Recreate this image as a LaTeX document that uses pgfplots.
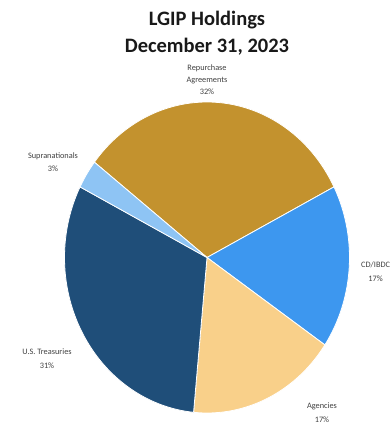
\documentclass[border=0pt]{standalone}
\usepackage{pgfplots}
\pgfplotsset{compat=1.18}
\usepackage{pgfplotstable}
\usepackage{fontspec}
\setmainfont{Carlito}
\definecolor{slice0}{HTML}{C3922E}
\definecolor{slice1}{HTML}{3D97EF}
\definecolor{slice2}{HTML}{F9D08A}
\definecolor{slice3}{HTML}{1F4E79}
\definecolor{slice4}{HTML}{8EC4F4}
\definecolor{lbl}{HTML}{404040}
\pgfplotstableread{
label pct
Repurchase 32
CD 17
Agencies 17
Treasuries 31
Supra 3
}\piedata
\begin{document}
\begin{tikzpicture}
\begin{axis}[x=1pt,y=1pt,xmin=-207,xmax=184,ymin=-168.5,ymax=257.5,
  hide axis,clip=false,anchor=south west,at={(0,0)}]
\gdef\startang{142.2}
\pgfplotsforeachungrouped \i in {0,...,4}{%
  \pgfplotstablegetelem{\i}{pct}\of\piedata
  \pgfmathsetmacro\pb{\startang-3.6*\pgfplotsretval}%
  \edef\cmd{\noexpand\addplot[fill=slice\i,draw=white,line width=0.8pt,domain=\pb:\startang,samples=90,variable=\noexpand\t] ({142.5*cos(\noexpand\t)},{155.5*sin(\noexpand\t)}) -- (axis cs:0,0) -- cycle;}%
  \cmd
  \xdef\startang{\pb}%
}
\node[font=\fontsize{20.5}{27}\selectfont\bfseries,align=center,text=black!90] at (axis cs:0,224) {LGIP Holdings\\December 31, 2023};
\node[font=\fontsize{8.3}{12}\selectfont,align=center,text=lbl] at (axis cs:0,177.5) {Repurchase\\Agreements\\32\%};
\node[font=\fontsize{8.3}{13}\selectfont,align=center,text=lbl] at (axis cs:-154,95.5) {Supranationals\\3\%};
\node[font=\fontsize{8.3}{14}\selectfont,align=center,text=lbl,anchor=west,inner sep=0pt] at (axis cs:154,-14.5) {CD/IBDC\\17\%};
\node[font=\fontsize{8.3}{14}\selectfont,align=center,text=lbl] at (axis cs:-160,-101.5) {U.S. Treasuries\\31\%};
\node[font=\fontsize{8.3}{14}\selectfont,align=center,text=lbl] at (axis cs:115,-155.5) {Agencies\\17\%};
\end{axis}
\pgfresetboundingbox
\path[use as bounding box] (0,0) rectangle (391pt,426pt);
\end{tikzpicture}
\end{document}
